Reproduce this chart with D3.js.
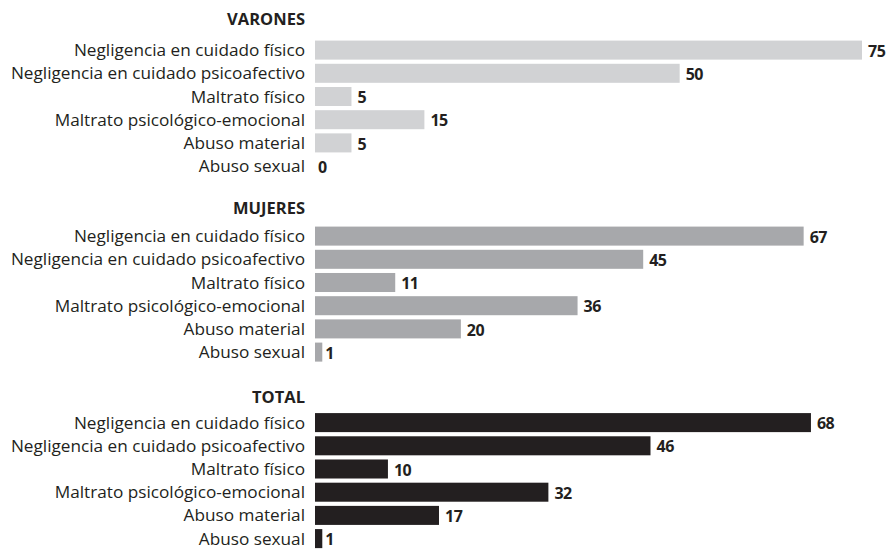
<!DOCTYPE html>
<html>
<head>
<meta charset="utf-8">
<script src="https://cdn.jsdelivr.net/npm/d3@7"></script>
<style>
	body { margin: 0; background: #ffffff; }
	svg { display: block; }
	.cat { font-family: "Open Sans", sans-serif; font-size: 17.2px; fill: #231f20; }
	.hdr { font-family: "Open Sans", sans-serif; font-size: 16.5px; font-weight: bold; fill: #231f20; }
	.val { font-family: "Open Sans", sans-serif; font-size: 16px; font-weight: bold; fill: #231f20; letter-spacing: -0.5px; }
</style>
</head>
<body>
<div id="chart"></div>
<script>
// categories shared by every group
var categories = [
	"Negligencia en cuidado físico",
	"Negligencia en cuidado psicoafectivo",
	"Maltrato físico",
	"Maltrato psicológico-emocional",
	"Abuso material",
	"Abuso sexual"
];

// group titles
var groups = ["VARONES", "MUJERES", "TOTAL"];

// values per group (percent)
var varones = [75, 50, 5, 15, 5, 0];
var mujeres = [67, 45, 11, 36, 20, 1];
var total = [68, 46, 10, 32, 17, 1];

var groupColors = ["#d1d2d4", "#a7a8ab", "#231f20"];

var seriesValues = [varones, mujeres, total];

// layout
var width = 890, height = 550;
var labelRight = 305;     // right edge of category labels
var barLeft = 315;        // zero of the value axis
var groupTop = [38.5, 224.5, 411];
var headerY = [-13.5, -10.5, -8.5];
var rowPitch = 23.2;

var svg = d3.select("#chart").append("svg")
	.attr("width", width)
	.attr("height", height);

// value scale, about 7.3px per unit
var x = d3.scaleLinear()
	.domain([0, 75])
	.range([barLeft, barLeft + 547]);

var y = d3.scaleBand()
	.domain(categories)
	.range([0, rowPitch * categories.length])
	.paddingInner(0.18)
	.paddingOuter(0.09);

groups.forEach(function (name, gi)
{
	var g = svg.append("g")
		.attr("transform", "translate(0," + groupTop[gi] + ")");

	g.append("text")
		.attr("class", "hdr")
		.attr("x", labelRight)
		.attr("y", headerY[gi])
		.attr("text-anchor", "end")
		.text(name);

	var rows = g.selectAll("g.row")
		.data(categories.map(function (c, i) { return {cat: c, v: seriesValues[gi][i]}; }))
		.enter().append("g")
		.attr("class", "row");

	rows.append("text")
		.attr("class", "cat")
		.attr("x", labelRight)
		.attr("y", function (d) { return y(d.cat) + y.bandwidth() / 2; })
		.attr("dy", "0.35em")
		.attr("text-anchor", "end")
		.text(function (d) { return d.cat; });

	rows.append("rect")
		.attr("x", x(0))
		.attr("y", function (d) { return y(d.cat); })
		.attr("width", function (d) { return x(d.v) - x(0); })
		.attr("height", y.bandwidth())
		.attr("fill", groupColors[gi]);

	rows.append("text")
		.attr("class", "val")
		.attr("x", function (d) { return d.v === 0 ? x(0) + 3 : x(d.v) + (d.v <= 1 ? 3 : 6); })
		.attr("y", function (d) { return y(d.cat) + y.bandwidth() / 2 + 1; })
		.attr("dy", "0.35em")
		.text(function (d) { return d.v; });
});
</script>
</body>
</html>
